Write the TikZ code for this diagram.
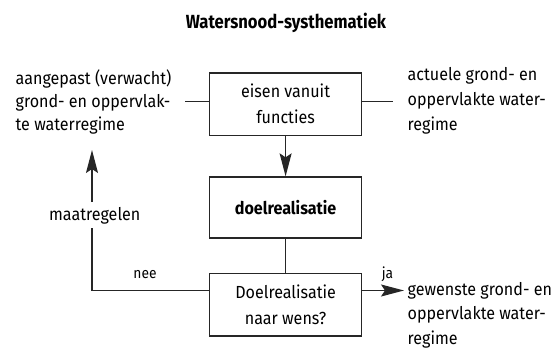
\documentclass[tikz,border=0pt]{standalone}
\usepackage{fontspec}
\setmainfont[FakeStretch=0.92]{Fira Sans}
\newfontfamily\titlefont[FakeStretch=0.875]{Fira Sans}
\usetikzlibrary{arrows.meta}
\begin{document}
\begin{tikzpicture}[x=1pt,y=-1pt,line width=1.3pt,
  box/.style={draw=black!85,minimum width=152pt,align=center,inner sep=0pt,font=\fontsize{17.5}{26}\selectfont},
  txt/.style={align=left,anchor=base west,inner sep=0pt,font=\fontsize{17.5}{24}\selectfont},
  small/.style={inner sep=0pt,anchor=base,font=\fontsize{15}{17}\selectfont},
  ln/.style={draw=black!85},
  arr/.style={ln,-{Stealth[length=23pt,width=12pt,inset=4pt]}}]
\useasboundingbox (0,0) rectangle (559,353);
\node[inner sep=0pt,anchor=base,font=\fontsize{19}{22}\titlefont\bfseries] (title) at (286,28.5) {Watersnood-systhematiek};
\node[box,minimum height=62.5pt] (b1) at (285.6,104.25) {eisen vanuit\\functies};
\node[box,minimum height=61pt] (b2) at (285.6,207.5) {\textbf{doelrealisatie}};
\node[box,minimum height=62.5pt] (b3) at (285.6,304.75) {Doelrealisatie\\naar wens?};
\node[txt,font=\fontsize{17.5}{23}\selectfont] (lt) at (15,130.7) {aangepast (verwacht)\\grond- en oppervlak-\\te waterregime};
\node[txt,font=\fontsize{17.5}{25}\selectfont] (rt) at (407,130.7) {actuele grond- en\\oppervlakte water-\\regime};
\node[txt,font=\fontsize{17.5}{24.5}\selectfont] (rb) at (407,344) {gewenste grond- en\\oppervlakte water-\\regime};
\node[inner sep=0pt,anchor=base,font=\fontsize{17.5}{20}\selectfont] (maat) at (94.7,220) {maatregelen};
\node[small] (nee) at (145,278) {nee};
\node[small] (ja) at (387.5,278.5) {ja};
\coordinate (l1) at (185,101.5);
\coordinate (r1) at (393,101.5);
\coordinate (lp) at (92,290.5);
\coordinate (lb) at (92,228);
\coordinate (lu) at (92,202);
\coordinate (la) at (92,150);
\coordinate (ra) at (404,290.5);
\draw[ln] (l1) -- (l1 -| b1.west);
\draw[ln] (r1 -| b1.east) -- (r1);
\draw[arr] (b1.south) -- (b2.north);
\draw[ln] (b2.south) -- (b3.north);
\draw[ln] (lp -| b3.west) -- (lp) -- (lb);
\draw[arr] (lu) -- (la);
\draw[arr] (ra -| b3.east) -- (ra);
\end{tikzpicture}
\end{document}
